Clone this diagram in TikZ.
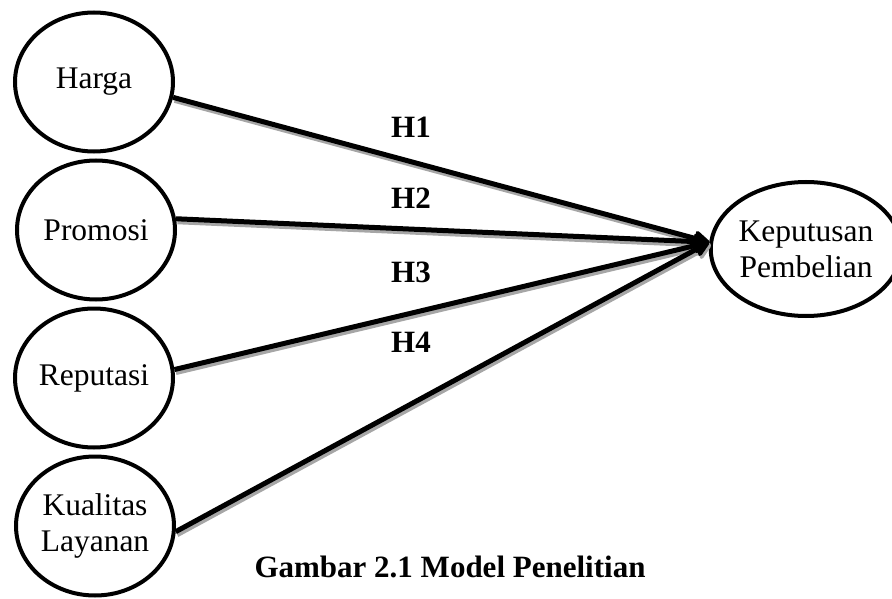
\documentclass[tikz,border=0pt]{standalone}
\usepackage{fontspec}
\setmainfont{Liberation Serif}
\usetikzlibrary{arrows.meta,shapes.geometric,positioning}

\begin{document}
\begin{tikzpicture}[x=1pt,y=-1pt,
  construct/.style={ellipse,draw=black,line width=4pt,minimum width=158pt,minimum height=139pt,inner sep=0pt,align=center},
  link/.style={line width=5pt,-{Stealth[length=20pt,width=20pt,inset=5pt,round]}},
  linkshadow/.style={link,draw=black!35,transform canvas={xshift=1.5pt,yshift=-3pt}},
  hyp/.style={font=\fontsize{31}{36}\selectfont\bfseries},
  font=\fontsize{31.5}{36}\selectfont]

  \useasboundingbox (0,0) rectangle (892,599);

  \node[construct] (harga) at (94,82) {Harga};
  \node[construct] (promosi) [below=5pt of harga, xshift=2pt] {Promosi};
  \node[construct] (reputasi) [below=5pt of promosi, xshift=-2pt] {Reputasi};
  \node[construct] (kualitas) [below=5pt of reputasi, xshift=1pt] {Kualitas\\Layanan};
  \node[construct, minimum width=166pt, minimum height=134pt] (keputusan) at (806,249) {Keputusan\\Pembelian};
  \coordinate (tip) at (keputusan.176);

  \draw[linkshadow] (harga.-11) -- (tip);
  \draw[linkshadow] (promosi.8) -- (tip);
  \draw[linkshadow] (reputasi.6) -- (tip);
  \draw[linkshadow] (kualitas.-4) -- (tip);
  \draw[link] (harga.-11) -- (tip);
  \draw[link] (promosi.8) -- (tip);
  \draw[link] (reputasi.6) -- (tip);
  \draw[link] (kualitas.-4) -- (tip);

  \node[hyp] (h1) at (411,127) {H1};
  \node[hyp] (h2) at (411,198) {H2};
  \node[hyp] (h3) at (411,272) {H3};
  \node[hyp] (h4) at (411,342) {H4};

  \node[hyp] (caption) at (450,567) {Gambar 2.1 Model Penelitian};
\end{tikzpicture}
\end{document}
